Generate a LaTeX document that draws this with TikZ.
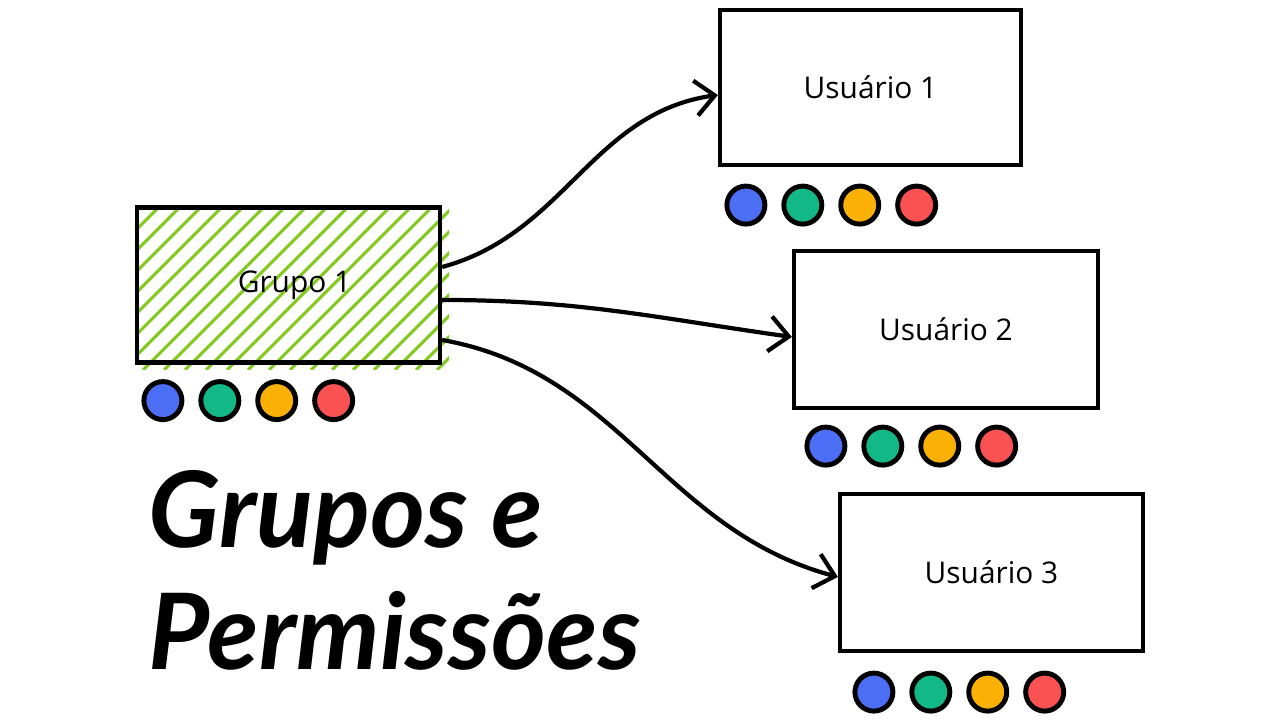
\documentclass[tikz,border=0pt]{standalone}
\usepackage{fontspec}
\setmainfont{Open Sans}
\newfontfamily\titlefont{Lato}
\usetikzlibrary{positioning,calc,arrows.meta}
\definecolor{hatchgreen}{HTML}{82C91E}
\definecolor{dotblue}{HTML}{4C6EF5}
\definecolor{dotgreen}{HTML}{12B886}
\definecolor{dotyellow}{HTML}{FAB005}
\definecolor{dotred}{HTML}{FA5252}
\tikzset{
    box style/.style={draw,line width=1.2pt,minimum width=3.03cm,minimum height=1.55cm,font=\fontsize{8.5}{10}\selectfont},
    dot style/.style={draw,circle,line width=1.4pt,minimum size=0.38cm,inner sep=0pt},
    hatch style/.style={hatchgreen,line width=0.85pt},
    arrow style/.style={line width=1.2pt,-{Straight Barb[length=5.5pt,width=10pt]}},
    title style/.style={anchor=base west,inner sep=0pt,font=\titlefont\fontsize{30}{34}\selectfont\bfseries\itshape},
}

\begin{document}
\begin{tikzpicture}
   \fill[white] (0,0) rectangle (12.8,7.2);
   \useasboundingbox (0,0) rectangle (12.8,7.2);

   % hachure of the group box
   \begin{scope}
     \clip (1.39,3.50) rectangle (4.49,5.12);
     \foreach \x in {-0.25,-0.04,...,4.5}
       \draw[hatch style] (\x,3.5) -- ++(1.7,1.7);
   \end{scope}

   \node[box style] (g) at (2.885,4.35) {\hspace{0.12cm}Grupo 1};
   \node[box style,minimum width=3.01cm] (u1) at (8.705,6.325) {Usuário 1};
   \node[box style,minimum width=3.04cm,minimum height=1.57cm] (u2) at (9.46,3.905) {Usuário 2};
   \node[box style,minimum height=1.57cm] (u3) at (9.915,1.475) {Usuário 3};

   % permission dots
   \foreach \b/\dx/\dy in {g/0.28/0.36, u1/0.28/0.38, u2/0.34/0.36, u3/0.36/0.39} {
     \node[dot style,fill=dotblue] (\b-1) at ($(\b.south west)+(\dx,-\dy)$) {};
     \node[dot style,fill=dotgreen,right=0.14cm of \b-1] (\b-2) {};
     \node[dot style,fill=dotyellow,right=0.14cm of \b-2] (\b-3) {};
     \node[dot style,fill=dotred,right=0.14cm of \b-3] (\b-4) {};
   }

   \draw[arrow style] ([yshift=0.18cm]g.east) to[out=15,in=188] ([yshift=-0.075cm]u1.west);
   \draw[arrow style] ([yshift=-0.15cm]g.east) to[out=0,in=172] ([yshift=-0.075cm]u2.west);
   \draw[arrow style] ([yshift=-0.55cm]g.east) to[out=-10,in=165] ([yshift=-0.045cm]u3.west);

   \node[title style] (t1) at (1.48,1.72) {Grupos e};
   \node[title style] (t2) at (1.48,0.50) {Permissões};
\end{tikzpicture}
\end{document}
